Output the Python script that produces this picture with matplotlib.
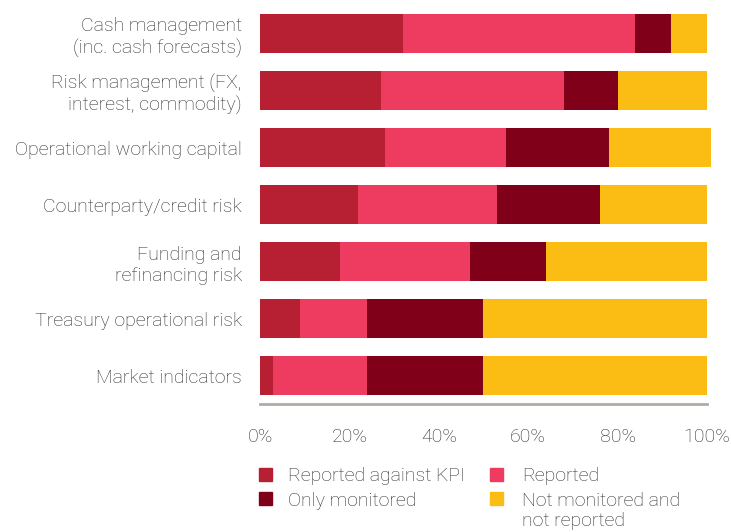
import numpy as np
import matplotlib.pyplot as plt
from matplotlib.patches import Rectangle

plt.rcParams['font.family'] = ['Roboto', 'DejaVu Sans']

categories = ['Cash management\n(inc. cash forecasts)',
              'Risk management (FX,\ninterest, commodity)',
              'Operational working capital',
              'Counterparty/credit risk',
              'Funding and\nrefinancing risk',
              'Treasury operational risk',
              'Market indicators']

kpi = [32, 27, 28, 22, 18, 9, 3]
reported = [52, 41, 27, 31, 29, 15, 21]
monitored = [8, 12, 23, 23, 17, 26, 26]
not_monitored = [8, 20, 23, 24, 36, 50, 50]

series = ['Reported against KPI', 'Reported', 'Only monitored',
          'Not monitored and\nnot reported']
colors = ['#b71f33', '#ee3b60', '#80001a', '#fbbd13']
text_col = '#2e2e2e'
fs = 14

fig = plt.figure(figsize=(7.31, 5.32), dpi=100)
ax = fig.add_axes([260/731, 1 - 404/532, 447/731, 399/532])

y = np.arange(len(categories))
left = np.zeros(len(categories))
for vals, c in zip([kpi, reported, monitored, not_monitored], colors):
    ax.barh(y, vals, left=left, height=0.68, color=c, clip_on=False)
    left += np.array(vals)

ax.set_ylim(6.5, -0.5)
ax.set_xlim(0, 100)
ax.set_yticks(y)
ax.set_yticklabels(categories, fontsize=fs, color=text_col,
                   fontweight='light', linespacing=1.25)
ax.set_xticks([0, 20, 40, 60, 80, 100])
ax.set_xticklabels(['0%', '20%', '40%', '60%', '80%', '100%'],
                   fontsize=fs, color=text_col, fontweight='light')
ax.tick_params(axis='both', length=0)
ax.tick_params(axis='y', pad=13)
ax.tick_params(axis='x', pad=17)
for s in ['top', 'right', 'left']:
    ax.spines[s].set_visible(False)
ax.spines['bottom'].set_color('#b3aba3')
ax.spines['bottom'].set_linewidth(2)

# legend, two columns: (square x, square top y, text x, text top y) in px
leg_pos = [(259, 468, 288, 467), (490, 468, 522, 467),
           (259, 492, 288, 492), (490, 492, 522, 492)]
for (sx, sy, tx, ty), lab, c in zip(leg_pos, series, colors):
    fig.patches.append(Rectangle((sx/731, 1 - (sy + 13)/532), 13/731, 13/532,
                                 transform=fig.transFigure, color=c))
    fig.text(tx/731, 1 - ty/532, lab, fontsize=fs,
             color=text_col, fontweight='light', va='top', ha='left',
             linespacing=1.15)

fig.savefig('out.png', dpi=100)
